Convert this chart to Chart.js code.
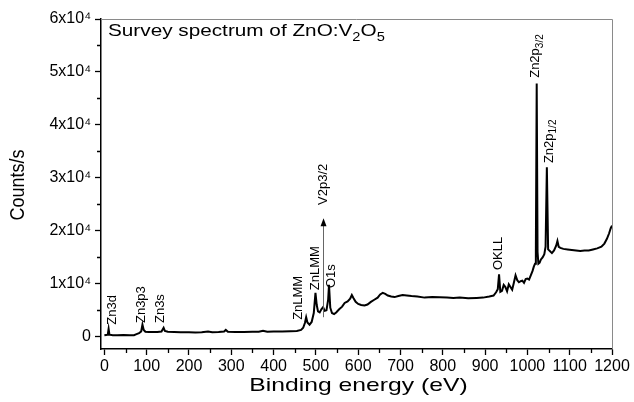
<!DOCTYPE html>
<html>
<head>
<meta charset="utf-8">
<script src="https://cdn.jsdelivr.net/npm/chart.js@4/dist/chart.umd.min.js"></script>
<style>
  body { margin: 0; background: #fff; }
  #wrap { width: 634px; height: 402px; }
</style>
</head>
<body>
<div id="wrap"><canvas id="xpsChart" width="634" height="402"></canvas></div>
<script>
const energy = [0, 4, 8, 10, 12, 20, 30, 45, 60, 70, 76, 82, 87, 90, 93, 97, 105, 115, 125, 135, 140, 143, 150, 165, 180, 200, 215, 230, 245, 255, 270, 283, 287, 292, 310, 330, 350, 365, 375, 385, 400, 420, 440, 455, 465, 470, 474, 477, 480, 485, 490, 495, 499, 502, 505, 509, 513, 517, 521, 525, 529, 531, 534, 538, 543, 548, 555, 562, 568, 575, 581, 585, 589, 594, 600, 607, 615, 622, 630, 638, 646, 652, 658, 664, 670, 678, 686, 695, 705, 715, 726, 740, 757, 775, 793, 810, 825, 840, 860, 880, 895, 910, 920, 926, 930, 933, 936, 940, 944, 948, 952, 956, 960, 964, 968, 972, 976, 980, 984, 988, 992, 996, 1000, 1004, 1008, 1012, 1015, 1018, 1020, 1022, 1024, 1026, 1029, 1032, 1036, 1040, 1043, 1046, 1049, 1053, 1058, 1063, 1068, 1071, 1074, 1078, 1085, 1095, 1105, 1115, 1125, 1135, 1145, 1155, 1165, 1175, 1182, 1188, 1193, 1197, 1200];
const counts = [300, 350, 400, 1500, 400, 300, 300, 350, 300, 300, 500, 700, 1000, 2300, 1300, 950, 900, 900, 900, 1000, 1700, 1100, 950, 900, 850, 850, 800, 850, 1000, 850, 900, 1000, 1300, 950, 900, 900, 950, 950, 1150, 950, 1000, 1000, 1050, 1100, 1300, 1700, 2600, 3700, 2700, 2300, 2800, 4500, 8300, 6000, 4800, 4600, 5200, 5600, 4900, 5000, 7000, 9800, 5500, 4500, 4300, 4600, 5200, 5700, 6400, 6700, 7200, 7900, 7300, 6600, 6200, 6000, 5900, 6100, 6600, 7000, 7400, 8000, 8300, 8100, 7800, 7600, 7500, 7700, 7900, 7800, 7700, 7600, 7400, 7500, 7450, 7400, 7350, 7400, 7300, 7350, 7400, 7600, 7800, 8400, 9000, 11800, 8500, 8700, 9800, 9400, 8600, 9900, 9400, 8900, 10200, 11600, 10700, 10300, 10500, 10600, 10200, 10900, 11000, 10800, 11600, 12400, 13200, 13800, 16000, 47800, 16000, 13800, 14000, 14600, 15000, 15600, 17000, 32000, 16500, 16200, 15800, 16300, 17200, 18100, 17000, 16800, 16600, 16500, 16400, 16300, 16200, 16300, 16300, 16500, 16700, 17000, 17600, 18500, 19500, 20500, 21000];

const xTicks = [0, 100, 200, 300, 400, 500, 600, 700, 800, 900, 1000, 1100, 1200];
const yTicks = [0, 10000, 20000, 30000, 40000, 50000, 60000];
const yTickLabels = ["0", "1x10\u2074", "2x10\u2074", "3x10\u2074", "4x10\u2074", "5x10\u2074", "6x10\u2074"];

// peak labels: text, subscript, energy of label centre, counts at label start
const peakNames = ["Zn3d", "Zn3p3", "Zn3s", "ZnLMM", "ZnLMM", "V2p3/2", "O1s", "OKLL", "Zn2p", "Zn2p"];
const peakSubs = ["", "", "", "", "", "", "", "", "3/2", "1/2"];
const peakEnergy = [18, 87, 132, 458, 498, 517, 536, 931, 1020, 1051];
const peakCounts = [2300, 2600, 2600, 3200, 8800, 24900, 9200, 12600, 48900, 32800];
const arrowFrom = 3700;
const arrowTo = 22400;

const FONT = "Arial, 'Liberation Sans', sans-serif";

function drawRich(ctx, parts, size, subSize) {
  let x = 0;
  parts.forEach(p => {
    if (!p.t) return;
    ctx.font = (p.sub ? subSize : size) + "px " + FONT;
    ctx.fillText(p.t, x, p.sub ? size * 0.3 : 0);
    x += ctx.measureText(p.t).width;
  });
}

const decor = {
  id: "decor",
  afterDraw(chart) {
    const ctx = chart.ctx;
    const xs = chart.scales.x, ys = chart.scales.y;
    const a = chart.chartArea;
    ctx.save();

    // top and right frame
    ctx.strokeStyle = "#8a8a8a";
    ctx.lineWidth = 1;
    ctx.beginPath();
    ctx.moveTo(a.left, a.top + 0.5);
    ctx.lineTo(a.right + 0.5, a.top + 0.5);
    ctx.lineTo(a.right + 0.5, a.bottom);
    ctx.stroke();

    // minor ticks
    ctx.strokeStyle = "#000";
    ctx.lineWidth = 1.3;
    ctx.beginPath();
    for (let i = 0; i < xTicks.length - 1; i++) {
      const px = Math.round(xs.getPixelForValue((xTicks[i] + xTicks[i + 1]) / 2)) + 0.5;
      ctx.moveTo(px, a.bottom);
      ctx.lineTo(px, a.bottom + 4);
    }
    for (let i = 0; i < yTicks.length - 1; i++) {
      const py = Math.round(ys.getPixelForValue((yTicks[i] + yTicks[i + 1]) / 2)) + 0.5;
      ctx.moveTo(a.left, py);
      ctx.lineTo(a.left - 4, py);
    }
    ctx.stroke();

    ctx.fillStyle = "#000";

    // title, slightly stretched like the original
    ctx.textAlign = "left";
    ctx.textBaseline = "alphabetic";
    ctx.save();
    ctx.translate(a.left + 7, a.top + 17);
    ctx.scale(1.22, 1);
    drawRich(ctx, [{ t: "Survey spectrum of ZnO:V" }, { t: "2", sub: true }, { t: "O" }, { t: "5", sub: true }], 17, 12);
    ctx.restore();

    // axis titles
    ctx.textAlign = "center";
    ctx.textBaseline = "middle";
    ctx.save();
    ctx.translate((a.left + a.right) / 2 + 2, 386);
    ctx.scale(1.3, 1);
    ctx.font = "19px " + FONT;
    ctx.fillText("Binding energy (eV)", 0, 0);
    ctx.restore();
    ctx.save();
    ctx.translate(18, (a.top + a.bottom) / 2 + 1);
    ctx.scale(1.15, 1);
    ctx.rotate(-Math.PI / 2);
    ctx.font = "18px " + FONT;
    ctx.fillText("Counts/s", 0, 0);
    ctx.restore();

    // peak labels
    ctx.textAlign = "left";
    peakNames.forEach((name, i) => {
      const px = xs.getPixelForValue(peakEnergy[i]);
      const py = ys.getPixelForValue(peakCounts[i]);
      ctx.save();
      ctx.translate(px, py);
      ctx.rotate(-Math.PI / 2);
      drawRich(ctx, [{ t: name }, { t: peakSubs[i], sub: true }], 13, 10);
      ctx.restore();
    });

    // arrow for V2p3/2
    const ax = Math.round(xs.getPixelForValue(peakEnergy[5])) + 0.5;
    const y1 = ys.getPixelForValue(arrowFrom);
    const y2 = ys.getPixelForValue(arrowTo);
    ctx.strokeStyle = "#666";
    ctx.lineWidth = 1;
    ctx.beginPath();
    ctx.moveTo(ax, y1);
    ctx.lineTo(ax, y2 + 6);
    ctx.stroke();
    ctx.beginPath();
    ctx.moveTo(ax, y2);
    ctx.lineTo(ax - 3, y2 + 8);
    ctx.lineTo(ax + 3, y2 + 8);
    ctx.closePath();
    ctx.fill();

    ctx.restore();
  }
};

document.addEventListener("DOMContentLoaded", function () {
  const ctx = document.getElementById("xpsChart").getContext("2d");
  new Chart(ctx, {
    type: "line",
    data: {
      datasets: [
        {
          data: energy.map((e, i) => ({ x: e, y: counts[i] })),
          borderColor: "#000",
          borderWidth: 2,
          pointRadius: 0,
          tension: 0,
          fill: false
        }
      ]
    },
    options: {
      responsive: false,
      animation: false,
      layout: { padding: { left: 0, top: 19, right: 22, bottom: 0 } },
      plugins: {
        legend: { display: false },
        tooltip: { enabled: false }
      },
      scales: {
        x: {
          type: "linear",
          min: -8,
          max: 1200,
          afterBuildTicks: scale => { scale.ticks = xTicks.map(v => ({ value: v })); },
          afterFit: scale => { scale.height = 53; },
          border: { display: true, color: "#000", width: 1.5 },
          grid: { drawOnChartArea: false, drawTicks: true, tickLength: 6, tickColor: "#000", tickWidth: 1.3 },
          ticks: {
            autoSkip: false,
            maxRotation: 0,
            padding: 2,
            color: "#000",
            font: { family: FONT, size: 16 },
            callback: value => String(value)
          }
        },
        y: {
          min: -2300,
          max: 60000,
          afterBuildTicks: scale => { scale.ticks = yTicks.map(v => ({ value: v })); },
          afterFit: scale => { scale.width = 101; },
          border: { display: true, color: "#000", width: 1.5 },
          grid: { drawOnChartArea: false, drawTicks: true, tickLength: 6, tickColor: "#000", tickWidth: 1.3 },
          ticks: {
            padding: 4,
            color: "#000",
            font: { family: FONT, size: 16 },
            callback: function (value) {
              const i = yTicks.indexOf(value);
              return i >= 0 ? yTickLabels[i] : "";
            }
          }
        }
      }
    },
    plugins: [decor]
  });
});
</script>
</body>
</html>
